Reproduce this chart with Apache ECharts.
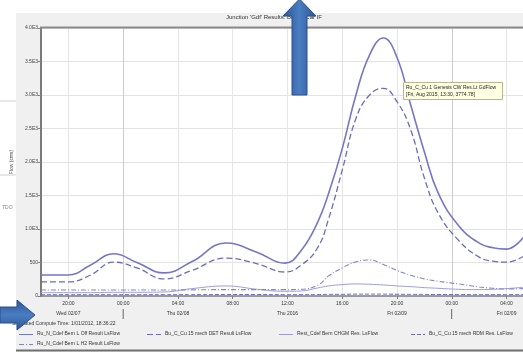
<!DOCTYPE html>
<html><head><meta charset="utf-8">
<script src="https://cdn.jsdelivr.net/npm/echarts@6/dist/echarts.min.js"></script>
<style>html,body{margin:0;padding:0;background:#fff}#c{width:523px;height:352px}</style>
</head><body><div id="c"></div>
<script>
// ---- data ----
const hours = [0, 2, 3.6, 5.3, 7, 9, 11, 13.5, 15.8, 17.8, 19, 20.2, 21, 22, 23, 24, 25, 26, 27, 28, 29, 30.5, 32, 33, 34, 35.2];
const flowS1 = [313, 313, 460, 630, 500, 345, 510, 790, 650, 490, 680, 1100, 1530, 2200, 3000, 3600, 3850, 3560, 2850, 2150, 1540, 1050, 790, 720, 700, 870];
const flowS2 = [210, 210, 310, 505, 420, 255, 380, 565, 480, 358, 460, 720, 1150, 1880, 2650, 3000, 3100, 2900, 2480, 1760, 1240, 830, 580, 520, 505, 590];
const flowS3 = [90, 90, 90, 90, 90, 90, 92, 95, 95, 95, 100, 160, 300, 420, 510, 537, 470, 380, 310, 255, 220, 180, 135, 115, 105, 110];
const flowS4 = [50, 50, 50, 55, 55, 60, 110, 150, 100, 70, 75, 120, 150, 170, 180, 175, 165, 150, 140, 125, 115, 100, 95, 100, 110, 130];
const flowS5 = [20, 20, 20, 20, 20, 20, 20, 22, 22, 20, 20, 22, 25, 25, 28, 28, 28, 26, 25, 24, 22, 22, 20, 20, 20, 22];
const seriesNames = [
  "Ru_N_Cdef Bern L Off Result LsFlow",
  "Bu_C_Cu 15 mech DET Result LsFlow",
  "Ru_N_Cdef Bern L H2 Result LsFlow",
  "Rest_Cdef Bern CHGM Res. LsFlow",
  "Bu_C_Cu 15 mech RDM Res. LsFlow"
];
const tickHours = [2, 6, 10, 14, 18, 22, 26, 30, 34];
const tickTimes = ["20:00", "00:00", "04:00", "08:00", "12:00", "16:00", "20:00", "00:00", "04:00"];
const tickDates = ["Wed 02/07", "|", "Thu 02/08", "", "Thu 2016", "", "Fri 02/09", "|", "Fri 02/09"];
const yTicks = [0, 500, 1000, 1500, 2000, 2500, 3000, 3500, 4000];
const yTickLabels = ["0", "500", "1.0E3", "1.5E3", "2.0E3", "2.5E3", "3.0E3", "3.5E3", "4.0E3"];
const titleText = "Junction 'Gdf' Results: Bu_C_Car IF";
const computeText = "Simulated Compute Time: 1/01/2012, 18:36:22";
const tipLines = ["Ru_C_Cu 1 Genesis CW Res.Lt GdFlow", "[Fri, Aug 2015, 13:30, 3774.78]"];

const FONT = "Liberation Sans";
const pairs = arr => hours.map((h, i) => [h, arr[i]]);

const chart = echarts.init(document.getElementById('c'), null, {renderer: 'canvas'});

const styles = [
  {color: '#7676c6', width: 1.6, type: 'solid'},
  {color: '#6c6cb8', width: 1.3, type: [6, 3]},
  {color: '#8282c8', width: 1.1, type: [5, 2, 1, 2]},
  {color: '#9c9cd8', width: 1.0, type: 'solid'},
  {color: '#6a6ab4', width: 1.0, type: [4, 2]}
];
const dataSets = [flowS1, flowS2, flowS3, flowS4, flowS5];

const series = dataSets.map((d, i) => ({
  name: seriesNames[i], type: 'line', data: pairs(d), smooth: 0.45,
  symbol: 'none', lineStyle: styles[i], itemStyle: {color: styles[i].color},
  z: 10 - i, silent: true, animation: false
}));

const legendPos = [[18, 331], [146, 331], [18, 341], [278, 331], [410, 331]];
const legends = seriesNames.map((n, i) => ({
  data: [{name: n, icon: 'none'}], left: legendPos[i][0], top: legendPos[i][1], padding: 0,
  itemWidth: 15, itemHeight: 6, itemGap: 3, selectedMode: false,
  itemStyle: {opacity: 0, borderWidth: 0},
  textStyle: {fontSize: 5, color: '#333', fontFamily: FONT, padding: [0, 0, 0, -1]}
}));

const arrowGrad = (x0, y0, x1, y1) => new echarts.graphic.LinearGradient(x0, y0, x1, y1, [
  {offset: 0, color: '#2c5592'}, {offset: 0.5, color: '#4a7dc2'}, {offset: 1, color: '#2c5592'}]);

chart.setOption({
  backgroundColor: '#f0f0f0',
  animation: false,
  title: {text: titleText, left: 226, top: 14, padding: 0,
    textStyle: {fontSize: 6, fontWeight: 'normal', color: '#333', fontFamily: FONT}},
  legend: legends,
  grid: {left: 41, right: 0, top: 28, bottom: 56, show: true, backgroundColor: '#ffffff',
    borderWidth: 0, containLabel: false, outerBoundsMode: 'none'},
  xAxis: {
    type: 'value', min: 0, max: 35.2,
    axisLine: {show: true, lineStyle: {color: '#808080', width: 1.5}},
    axisTick: {show: true, customValues: tickHours, length: 3, lineStyle: {color: '#808080'}},
    axisLabel: {
      customValues: tickHours, margin: 3, fontFamily: FONT,
      formatter: v => {
        const i = tickHours.indexOf(v);
        if (i < 0) return '';
        const d = tickDates[i];
        return '{t|' + tickTimes[i] + '}\n' + (d === '|' ? '{s|' + d + '}' : '{d|' + (d || ' ') + '}');
      },
      rich: {
        t: {fontSize: 5, color: '#333', lineHeight: 9, fontFamily: FONT},
        d: {fontSize: 5, color: '#333', lineHeight: 11, fontFamily: FONT},
        s: {fontSize: 11, color: '#555', lineHeight: 11, fontFamily: FONT}
      }
    },
    splitLine: {show: true, lineStyle: {color: ['#e6e6e6', '#cccccc', '#e6e6e6', '#e6e6e6', '#e6e6e6', '#e6e6e6'], width: 1}}
  },
  yAxis: {
    type: 'value', min: 0, max: 4000, interval: 500,
    name: 'Flow (cms)', nameLocation: 'middle', nameGap: 20, nameRotate: 90,
    nameTextStyle: {fontSize: 5, color: '#444', fontFamily: FONT},
    axisLine: {show: true, lineStyle: {color: '#7a7a7a', width: 2}},
    axisTick: {show: true, length: 3, lineStyle: {color: '#808080'}},
    axisLabel: {fontSize: 5, color: '#444', margin: 3, fontFamily: FONT,
      formatter: v => { const i = yTicks.indexOf(v); return i < 0 ? '' : yTickLabels[i]; }},
    splitLine: {show: true, lineStyle: {color: '#e3e3e3', width: 1}}
  },
  series: series,
  graphic: [
    {type: 'rect', shape: {x: 0, y: 0, width: 16, height: 352}, style: {fill: '#ffffff'}, z: 0, silent: true},
    {type: 'rect', shape: {x: 0, y: 0, width: 523, height: 13}, style: {fill: '#ffffff'}, z: 0, silent: true},
    {type: 'line', shape: {x1: 0, y1: 101, x2: 16, y2: 101}, style: {stroke: '#d0d0d0', lineWidth: 1}, silent: true},
    {type: 'line', shape: {x1: 0, y1: 175, x2: 16, y2: 175}, style: {stroke: '#d0d0d0', lineWidth: 1}, silent: true},
    {type: 'text', x: 2, y: 205, style: {text: 'TDO', fontSize: 5, fill: '#888', fontFamily: FONT}, silent: true},
    {type: 'line', shape: {x1: 40, y1: 27.5, x2: 523, y2: 27.5}, style: {stroke: '#8a8a8a', lineWidth: 2}, z: 50, silent: true},
    {type: 'line', shape: {x1: 16, y1: 350.5, x2: 523, y2: 350.5}, style: {stroke: '#707070', lineWidth: 2}, silent: true},
    // legend line samples drawn next to legend text
    ...seriesNames.map((n, i) => ({type: 'line', shape: {x1: legendPos[i][0] + 1, y1: legendPos[i][1] + 3.5, x2: legendPos[i][0] + 15, y2: legendPos[i][1] + 3.5},
      style: {stroke: styles[i].color, lineWidth: 1, lineDash: styles[i].type === 'solid' ? null : styles[i].type}, silent: true})),
    {type: 'text', x: 12, y: 321, style: {text: computeText, fontSize: 5, fill: '#333', fontFamily: FONT}, silent: true},
    {type: 'rect', shape: {x: 403.5, y: 82.5, width: 99, height: 17}, style: {fill: '#ffffe1', stroke: '#b8b890', lineWidth: 1}, z: 60, silent: true},
    {type: 'text', x: 406, y: 85, style: {text: tipLines[0], fontSize: 5, fill: '#222', fontFamily: FONT}, z: 61, silent: true},
    {type: 'text', x: 406, y: 92, style: {text: tipLines[1], fontSize: 5, fill: '#222', fontFamily: FONT}, z: 61, silent: true},
    // vertical arrow (annotation)
    {type: 'polygon', shape: {points: [[292, 95], [292, 16], [283, 16], [299.5, -1], [316, 16], [307, 16], [307, 95]]},
      style: {fill: arrowGrad(0, 0, 1, 0), stroke: '#2a4f88', lineWidth: 1}, z: 100, silent: true},
    // horizontal arrow (annotation)
    {type: 'polygon', shape: {points: [[0, 307], [17, 307], [17, 300], [35, 315], [17, 330], [17, 323], [0, 323]]},
      style: {fill: arrowGrad(0, 0, 0, 1), stroke: '#2a4f88', lineWidth: 1}, z: 100, silent: true}
  ]
});
</script></body></html>
